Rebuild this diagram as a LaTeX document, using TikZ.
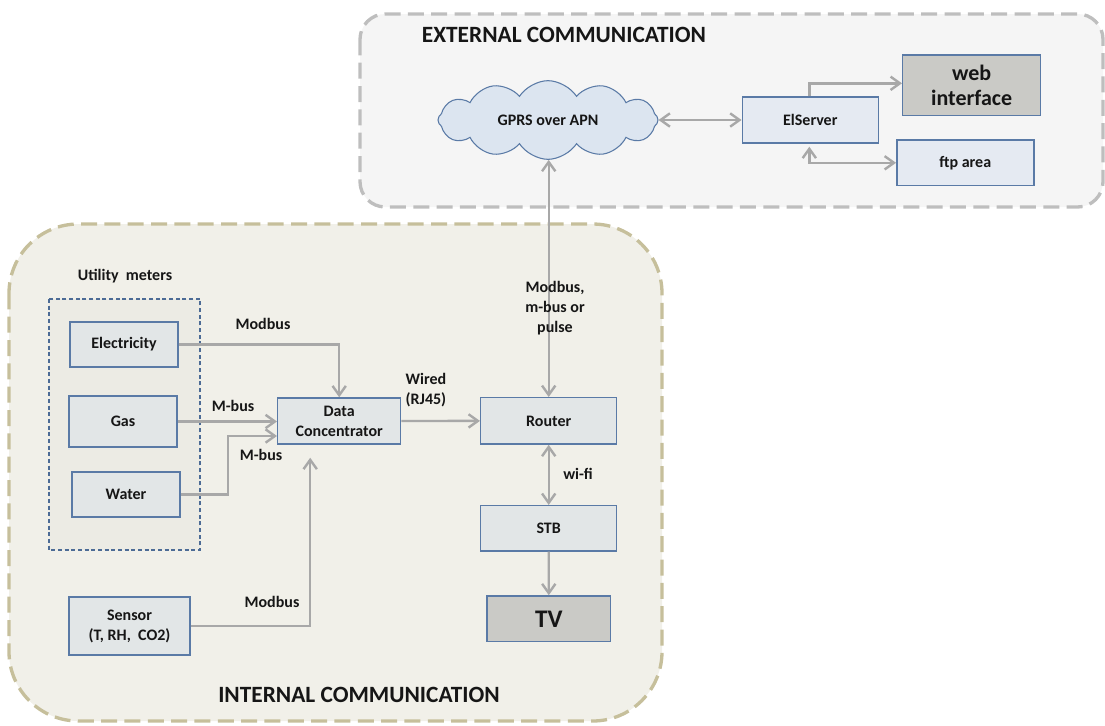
\documentclass[tikz,border=0pt]{standalone}
\usepackage{fontspec}
\setmainfont{Carlito}
\usetikzlibrary{arrows.meta,shapes.symbols,calc}

\definecolor{txt}{HTML}{161616}
\definecolor{extfill}{HTML}{F5F5F5}
\definecolor{extline}{HTML}{BEBEBE}
\definecolor{intfill}{HTML}{F1F0E9}
\definecolor{intline}{HTML}{C6BF9B}
\definecolor{grpfill}{HTML}{ECEBE4}
\definecolor{grpline}{HTML}{4C6B95}
\definecolor{boxline}{HTML}{5A7AA6}
\definecolor{boxfill}{HTML}{E2E6E7}
\definecolor{srvfill}{HTML}{E5EAF2}
\definecolor{darkfill}{HTML}{CACAC6}
\definecolor{cloudfill}{HTML}{DCE5F0}
\definecolor{conn}{HTML}{A8A8A8}

\begin{document}
\begin{tikzpicture}[x=0.75pt,y=-0.75pt,
  small/.style={font=\bfseries\fontsize{12}{15}\selectfont, text=txt},
  big/.style={font=\bfseries\fontsize{17.5}{20}\selectfont, text=txt},
  box/.style={draw=boxline, line width=1.1pt, fill=boxfill, inner sep=0pt,
              align=center, small},
  srvbox/.style={box, fill=srvfill},
  darkbox/.style={box, fill=darkfill},
  lbl/.style={small, align=center, inner sep=0pt},
  zone/.style={line width=2.5pt, dash pattern=on 12pt off 5.5pt},
  tip/.tip={Straight Barb[length=7pt,width=10pt]},
  arr/.style={draw=conn, line width=1.8pt, -tip},
  darr/.style={draw=conn, line width=1.8pt, tip-tip}]

\useasboundingbox (0,0) rectangle (1105,725);

% communication zones
\draw[zone, draw=extline, fill=extfill, rounded corners=19pt]
  (360,14) rectangle (1103,207);
\draw[zone, draw=intline, fill=intfill, rounded corners=52pt]
  (9,224) rectangle (662,721);

\node[big] (exttitle) at (564,35) {EXTERNAL COMMUNICATION};
\node[big] (inttitle) at (359,695) {INTERNAL COMMUNICATION};

% group of utility meters
\draw[draw=grpline, fill=grpfill, line width=0.8pt, dash pattern=on 3pt off 2pt]
  (49,299) rectangle (200,550);
\node[lbl] (meters) at (125,276) {Utility~ meters};

% external devices
\node[cloud, cloud puffs=12, cloud puff arc=115, cloud ignores aspect,
      draw=boxline, line width=0.8pt, fill=cloudfill,
      minimum width=165pt, minimum height=59pt, inner sep=0pt,
      small] (cloud) at (548,120) {GPRS over APN};
\node[srvbox, minimum width=102pt, minimum height=34.5pt] (srv) at (810.3,120) {ElServer};
\node[darkbox, minimum width=103.5pt, minimum height=45.5pt,
      font=\bfseries\fontsize{16.5}{19}\selectfont] (web) at (971.7,85.3) {web\\interface};
\node[srvbox, minimum width=102.8pt, minimum height=34.3pt] (ftp) at (965.3,162.8) {ftp area};

% internal devices
\node[box, minimum width=81pt, minimum height=33.75pt] (elec) at (124,344.5) {Electricity};
\node[box, minimum width=81pt, minimum height=38.25pt] (gas) at (123,421.5) {Gas};
\node[box, minimum width=81pt, minimum height=33.75pt] (water) at (126,494.5) {Water};
\node[box, minimum width=92.25pt, minimum height=34.5pt] (dc) at (339.2,421) {Data\\Concentrator};
\node[box, minimum width=102pt, minimum height=34.8pt] (router) at (548.7,420.9) {Router};
\node[box, minimum width=102pt, minimum height=34pt] (stb) at (548.7,528.3) {STB};
\node[darkbox, minimum width=92.5pt, minimum height=34.3pt,
      font=\bfseries\fontsize{19}{22}\selectfont] (tv) at (548.8,618.8) {TV};
\node[box, minimum width=90.75pt, minimum height=43.5pt] (sensor) at (129.5,626) {Sensor\\(T, RH,~ CO2)};

% links between devices
\draw[arr] (elec.east) -| (dc.north);
\draw[arr] (gas.east) -- (gas.east -| dc.west);
\draw[arr] (water.east) -| ($(dc.west)+(-49,15)$) -- ($(dc.west)+(0,15)$);
\draw[arr] (sensor.east) -| ($(dc.south)+(-29,13)$);
\draw[arr] (dc.east) -- (router.west);
\draw[darr] (router.north) -- (router.north |- cloud.south);
\draw[darr] (router.south) -- (stb.north);
\draw[arr] (stb.south) -- (tv.north);
\draw[darr] (cloud.east) -- (srv.west);
\draw[arr] ($(srv.north)+(-1,0)$) |- ($(web.west)+(0,-2)$);
\draw[darr] ($(srv.south)+(-1,3)$) |- (ftp.west);

% link labels
\node[lbl] (l-elec) at (263,324) {Modbus};
\node[lbl] (l-gas) at (233,406) {M-bus};
\node[lbl] (l-water) at (261,455) {M-bus};
\node[lbl] (l-sensor) at (272,602) {Modbus};
\node[lbl, align=left] (l-wired) at (426,390) {Wired\\(RJ45)};
\node[lbl, font=\bfseries\fontsize{12}{15}\selectfont] (l-apn) at (555,308) {Modbus,\\m-bus or\\pulse};
\node[lbl] (l-wifi) at (578,474) {wi-fi};
\end{tikzpicture}
\end{document}
